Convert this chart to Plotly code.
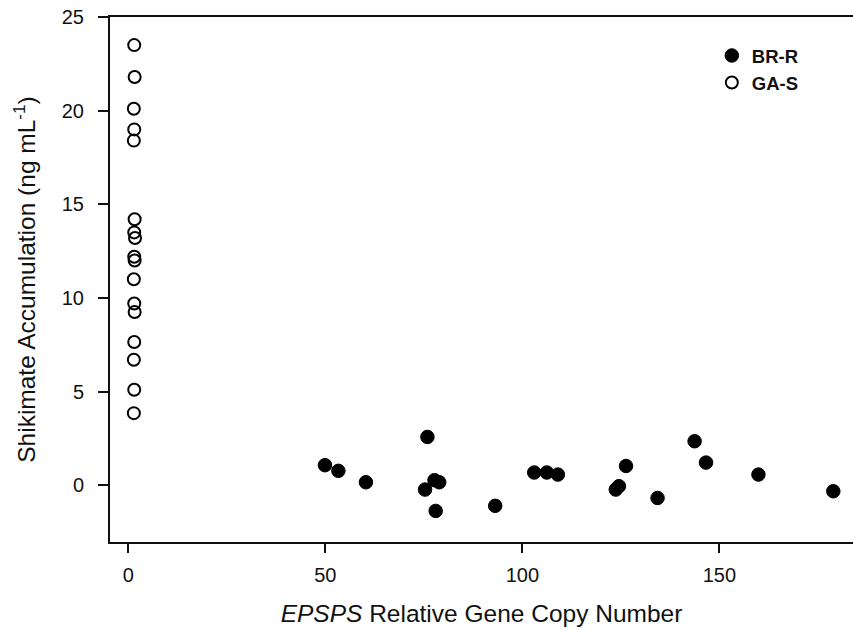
import plotly.graph_objects as go

# GA-S (susceptible) – open circles
gas_x = [1.5, 1.6, 1.4, 1.5, 1.4, 1.6, 1.5, 1.7, 1.5, 1.6, 1.4, 1.5, 1.6, 1.5, 1.4, 1.5, 1.4]
gas_y = [23.5, 21.8, 20.1, 19.0, 18.4, 14.2, 13.5, 13.2, 12.2, 12.0, 11.0, 9.7, 9.25, 7.65, 6.7, 5.1, 3.85]

# BR-R (resistant) – filled circles
brr_x = [49.9, 53.3, 60.3, 75.9, 75.3, 77.7, 78.9, 78.0, 93.1, 103.0, 106.2, 109.0,
         126.3, 123.7, 124.5, 134.3, 143.7, 146.6, 159.9, 178.9]
brr_y = [1.07, 0.77, 0.16, 2.58, -0.23, 0.27, 0.16, -1.37, -1.1, 0.68, 0.68, 0.57,
         1.03, -0.23, -0.05, -0.68, 2.35, 1.21, 0.57, -0.32]

x_ticks = [0, 50, 100, 150]
y_ticks = [0, 5, 10, 15, 20, 25]

FONT = "Liberation Sans, Arial, sans-serif"
INK = "#111111"

fig = go.Figure()
fig.add_trace(go.Scatter(
    x=brr_x, y=brr_y, mode="markers", name="<b>BR-R</b>",
    marker=dict(symbol="circle", size=13.5, color="black", line=dict(color="black", width=1)),
))
fig.add_trace(go.Scatter(
    x=gas_x, y=gas_y, mode="markers", name="<b>GA-S</b>",
    marker=dict(symbol="circle-open", size=12, color="black", line=dict(color="black", width=2)),
))

fig.update_layout(
    width=853, height=630,
    margin=dict(l=110, r=0, t=17, b=88),
    paper_bgcolor="white", plot_bgcolor="white",
    font=dict(family=FONT, color=INK, size=20),
    showlegend=True,
    legend=dict(
        x=0.81, y=0.962, xanchor="left", yanchor="top",
        bgcolor="rgba(0,0,0,0)", font=dict(size=18.5, color=INK),
        itemwidth=30, tracegroupgap=0,
    ),
    xaxis=dict(
        range=[-4.65, 183.9], tickvals=x_ticks, ticktext=[str(v) for v in x_ticks],
        showgrid=False, zeroline=False,
        showline=True, linecolor=INK, linewidth=2, mirror=True,
        ticks="outside", ticklen=9, tickwidth=2, tickcolor=INK,
        ticklabelstandoff=5,
        tickfont=dict(size=20, color=INK),
        title=dict(text="<i>EPSPS</i> Relative Gene Copy Number",
                   font=dict(size=24.5, color=INK), standoff=20),
    ),
    yaxis=dict(
        range=[-3.03, 25], tickvals=y_ticks, ticktext=[str(v) for v in y_ticks],
        showgrid=False, zeroline=False,
        showline=True, linecolor=INK, linewidth=2, mirror=False,
        ticks="outside", ticklen=10, tickwidth=2, tickcolor=INK,
        ticklabelstandoff=10,
        tickfont=dict(size=20, color=INK),
        title=dict(text="Shikimate Accumulation (ng mL<sup>-1</sup>)",
                   font=dict(size=24.5, color=INK), standoff=19),
    ),
)

fig.write_html("out.html")
